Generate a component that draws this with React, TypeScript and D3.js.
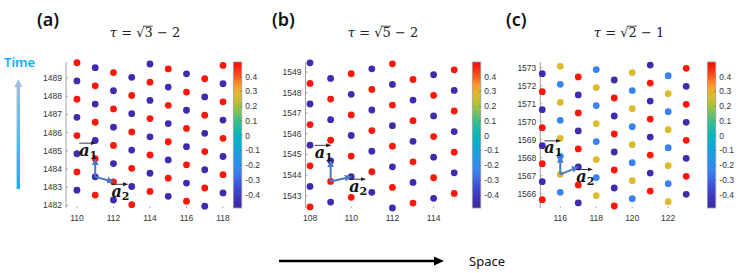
import { useEffect, useRef } from "react";
import * as d3 from "d3";

const W = 747;
const H = 273;

// colour levels of the dots, read against the colorbars
const RED = 0.48;
const BLU = -0.46;
const YEL = 0.27;
const LBL = -0.24;

const cbTicks = [0.4, 0.3, 0.2, 0.1, 0, -0.1, -0.2, -0.3, -0.4];
const cbStopVals = [-0.5, -0.45, -0.35, -0.25, -0.15, -0.05, 0, 0.1, 0.2, 0.27, 0.33, 0.4, 0.5];
const cbStopCols = ["#3a26a0", "#3d2db2", "#3f4ad6", "#3b80f2", "#1f98e8", "#0aaed2", "#03b5bd", "#3cbf8c", "#a6c03a", "#dcbc2e", "#f9a82e", "#ff5a1e", "#ff0505"];

// ---- panel (a): tau = sqrt(3) - 2 ----
const aCols = [110, 111, 112, 113, 114, 115, 116, 117, 118];
const aTimes = [
  [1489.84, 1488.84, 1487.84, 1486.84, 1485.84, 1484.84, 1483.84, 1482.84],
  [1489.57, 1488.57, 1487.57, 1486.57, 1485.57, 1484.57, 1483.57, 1482.57],
  [1489.3, 1488.3, 1487.3, 1486.3, 1485.3, 1484.3, 1483.3, 1482.3],
  [1489.04, 1488.04, 1487.04, 1486.04, 1485.04, 1484.04, 1483.04, 1482.04],
  [1489.77, 1488.77, 1487.77, 1486.77, 1485.77, 1484.77, 1483.77, 1482.77],
  [1489.5, 1488.5, 1487.5, 1486.5, 1485.5, 1484.5, 1483.5, 1482.5],
  [1489.23, 1488.23, 1487.23, 1486.23, 1485.23, 1484.23, 1483.23, 1482.23],
  [1488.96, 1487.96, 1486.96, 1485.96, 1484.96, 1483.96, 1482.96, 1481.96],
  [1489.69, 1488.69, 1487.69, 1486.69, 1485.69, 1484.69, 1483.69, 1482.69],
];
const aVals = [
  [RED, BLU, RED, BLU, RED, BLU, RED, BLU],
  [BLU, RED, BLU, RED, BLU, RED, BLU, RED],
  [RED, BLU, RED, BLU, RED, BLU, RED, BLU],
  [BLU, RED, BLU, RED, BLU, RED, BLU, RED],
  [BLU, RED, BLU, RED, BLU, RED, BLU, RED],
  [RED, BLU, RED, BLU, RED, BLU, RED, BLU],
  [BLU, RED, BLU, RED, BLU, RED, BLU, RED],
  [RED, BLU, RED, BLU, RED, BLU, RED, BLU],
  [RED, BLU, RED, BLU, RED, BLU, RED, BLU],
];
const aXTicks = [110, 112, 114, 116, 118];
const aYTicks = [1482, 1483, 1484, 1485, 1486, 1487, 1488, 1489];
const aVec = [[111, 1483.57], [111, 1484.57], [112, 1483.3]];

// ---- panel (b): tau = sqrt(5) - 2 ----
const bCols = [108, 109, 110, 111, 112, 113, 114, 115];
const bTimes = [
  [1549.45, 1548.45, 1547.45, 1546.45, 1545.45, 1544.45, 1543.45, 1542.45],
  [1548.69, 1547.69, 1546.69, 1545.69, 1544.69, 1543.69, 1542.69],
  [1548.92, 1547.92, 1546.92, 1545.92, 1544.92, 1543.92, 1542.92],
  [1549.16, 1548.16, 1547.16, 1546.16, 1545.16, 1544.16, 1543.16],
  [1549.4, 1548.4, 1547.4, 1546.4, 1545.4, 1544.4, 1543.4, 1542.4],
  [1548.64, 1547.64, 1546.64, 1545.64, 1544.64, 1543.64, 1542.64],
  [1548.87, 1547.87, 1546.87, 1545.87, 1544.87, 1543.87, 1542.87],
  [1549.11, 1548.11, 1547.11, 1546.11, 1545.11, 1544.11, 1543.11],
];
const bVals = [
  [BLU, RED, BLU, RED, BLU, RED, BLU, RED],
  [BLU, RED, BLU, RED, BLU, RED, BLU],
  [RED, BLU, RED, BLU, RED, BLU, RED],
  [BLU, RED, BLU, RED, BLU, RED, BLU],
  [RED, BLU, RED, BLU, RED, BLU, RED, BLU],
  [RED, BLU, RED, BLU, RED, BLU, RED],
  [BLU, RED, BLU, RED, BLU, RED, BLU],
  [RED, BLU, RED, BLU, RED, BLU, RED],
];
const bXTicks = [108, 110, 112, 114];
const bYTicks = [1543, 1544, 1545, 1546, 1547, 1548, 1549];
const bVec = [[109, 1543.69], [109, 1544.69], [110, 1543.92]];

// ---- panel (c): tau = sqrt(2) - 1 ----
const cCols = [115, 116, 117, 118, 119, 120, 121, 122, 123];
const cTimes = [
  [1572.67, 1571.67, 1570.67, 1569.67, 1568.67, 1567.67, 1566.67, 1565.67],
  [1573.08, 1572.08, 1571.08, 1570.08, 1569.08, 1568.08, 1567.08, 1566.08],
  [1572.49, 1571.49, 1570.49, 1569.49, 1568.49, 1567.49, 1566.49, 1565.49],
  [1572.9, 1571.9, 1570.9, 1569.9, 1568.9, 1567.9, 1566.9, 1565.9],
  [1572.32, 1571.32, 1570.32, 1569.32, 1568.32, 1567.32, 1566.32, 1565.32],
  [1572.73, 1571.73, 1570.73, 1569.73, 1568.73, 1567.73, 1566.73, 1565.73],
  [1573.15, 1572.15, 1571.15, 1570.15, 1569.15, 1568.15, 1567.15, 1566.15],
  [1572.56, 1571.56, 1570.56, 1569.56, 1568.56, 1567.56, 1566.56, 1565.56],
  [1572.97, 1571.97, 1570.97, 1569.97, 1568.97, 1567.97, 1566.97, 1565.97],
];
const cVals = [
  [BLU, RED, BLU, RED, BLU, RED, BLU, RED],
  [YEL, LBL, YEL, LBL, YEL, LBL, YEL, LBL],
  [RED, BLU, RED, BLU, RED, BLU, RED, BLU],
  [LBL, YEL, LBL, YEL, LBL, YEL, LBL, YEL],
  [BLU, RED, BLU, RED, BLU, RED, BLU, RED],
  [YEL, LBL, YEL, LBL, YEL, LBL, YEL, LBL],
  [BLU, RED, BLU, RED, BLU, RED, BLU, RED],
  [LBL, YEL, LBL, YEL, LBL, YEL, LBL, YEL],
  [RED, BLU, RED, BLU, RED, BLU, RED, BLU],
];
const cXTicks = [116, 118, 120, 122];
const cYTicks = [1566, 1567, 1568, 1569, 1570, 1571, 1572, 1573];
const cVec = [[116, 1567.08], [116, 1568.08], [117, 1567.49]];

type Panel = {
  letter: string;
  title: string;
  cols: number[];
  times: number[][];
  vals: number[][];
  xTicks: number[];
  yTicks: number[];
  vec: number[][];
  xDom: [number, number];
  yDom: [number, number];
  left: number;
  right: number;
  cbX: number;
  letterX: number;
  titleX: number;
};

const panels: Panel[] = [
  { letter: "(a)", title: "τ = √3 − 2", cols: aCols, times: aTimes, vals: aVals, xTicks: aXTicks, yTicks: aYTicks, vec: aVec,
    xDom: [109.4, 118.4], yDom: [1481.86, 1489.88], left: 66, right: 230.3, cbX: 233.3, letterX: 37, titleX: 145 },
  { letter: "(b)", title: "τ = √5 − 2", cols: bCols, times: bTimes, vals: bVals, xTicks: bXTicks, yTicks: bYTicks, vec: bVec,
    xDom: [107.78, 115.5], yDom: [1542.4, 1549.49], left: 305.5, right: 464.5, cbX: 472.3, letterX: 272, titleX: 383 },
  { letter: "(c)", title: "τ = √2 − 1", cols: cCols, times: cTimes, vals: cVals, xTicks: cXTicks, yTicks: cYTicks, vec: cVec,
    xDom: [114.89, 123.6], yDom: [1565.21, 1573.32], left: 540.3, right: 697, cbX: 707.3, letterX: 506, titleX: 629 },
];

const TOP = 62;
const BOTTOM = 208;
const TICK_FONT = "'Liberation Sans', Arial, sans-serif";

export default function App() {
  const ref = useRef<SVGSVGElement | null>(null);

  useEffect(() => {
    const svg = d3.select(ref.current);
    svg.selectAll("*").remove();

    const color = d3.scaleLinear<string>().domain(cbStopVals).range(cbStopCols).interpolate(d3.interpolateRgb);

    /* -------- defs -------- */
    const defs = svg.append("defs");
    const cbGrad = defs.append("linearGradient").attr("id", "cbGrad").attr("x1", 0).attr("x2", 0).attr("y1", 1).attr("y2", 0);
    d3.range(0, 1.0001, 0.05).forEach((f) => {
      cbGrad.append("stop").attr("offset", f).attr("stop-color", color(-0.49 + f * 0.99));
    });
    const timeGrad = defs.append("linearGradient").attr("id", "timeGrad").attr("x1", 0).attr("x2", 0).attr("y1", 0).attr("y2", 1);
    timeGrad.append("stop").attr("offset", 0).attr("stop-color", "#aac0e0");
    timeGrad.append("stop").attr("offset", 1).attr("stop-color", "#0bb4f0");
    defs.append("marker").attr("id", "vecHead").attr("viewBox", "0 0 10 10").attr("refX", 8).attr("refY", 5)
      .attr("markerWidth", 3.4).attr("markerHeight", 3.4).attr("orient", "auto")
      .append("path").attr("d", "M0,0L10,5L0,10z").attr("fill", "#4a78c8");
    defs.append("marker").attr("id", "smallHead").attr("viewBox", "0 0 10 10").attr("refX", 9).attr("refY", 5)
      .attr("markerWidth", 5).attr("markerHeight", 5).attr("markerUnits", "userSpaceOnUse").attr("orient", "auto")
      .append("path").attr("d", "M0,1L10,5L0,9z").attr("fill", "#222");

    svg.append("rect").attr("width", W).attr("height", H).attr("fill", "#fff");

    panels.forEach((p) => {
      const x = d3.scaleLinear().domain(p.xDom).range([p.left, p.right]);
      const y = d3.scaleLinear().domain(p.yDom).range([BOTTOM, TOP]);
      const g = svg.append("g");

      // panel letter + title
      g.append("text").attr("x", p.letterX).attr("y", 26).attr("font-family", "'Noto Sans', sans-serif")
        .attr("font-size", 18).attr("font-weight", 600).attr("fill", "#111").text(p.letter);
      const title = g.append("text").attr("x", p.titleX).attr("y", 37).attr("text-anchor", "middle")
        .attr("font-family", "'DejaVu Serif', serif").attr("font-size", 13).attr("fill", "#222");
      title.append("tspan").attr("font-style", "italic").text(p.title.slice(0, 1));
      title.append("tspan").text(p.title.slice(1));
      const tNode = title.node() as SVGTextElement;
      const rad = tNode.getExtentOfChar(4);
      const dig = tNode.getExtentOfChar(5);
      g.append("line").attr("x1", rad.x + rad.width * 0.8).attr("x2", dig.x + dig.width)
        .attr("y1", rad.y + 1.2).attr("y2", rad.y + 1.2).attr("stroke", "#222").attr("stroke-width", 0.8);

      // y axis
      g.append("line").attr("x1", p.left).attr("x2", p.left).attr("y1", TOP).attr("y2", BOTTOM)
        .attr("stroke", "#a0a0a0").attr("stroke-width", 1);
      g.selectAll("line.yt").data(p.yTicks).join("line").attr("class", "yt")
        .attr("x1", p.left).attr("x2", p.left + 2).attr("y1", (d) => y(d)).attr("y2", (d) => y(d))
        .attr("stroke", "#a0a0a0");
      g.selectAll("text.yl").data(p.yTicks).join("text").attr("class", "yl")
        .attr("x", p.left - 4).attr("y", (d) => y(d)).attr("dy", "0.35em").attr("text-anchor", "end")
        .attr("font-family", TICK_FONT).attr("font-size", 8.5).attr("fill", "#333").text((d) => d);

      // x ticks (no axis line visible)
      g.selectAll("line.xt").data(p.xTicks).join("line").attr("class", "xt")
        .attr("x1", (d) => x(d)).attr("x2", (d) => x(d)).attr("y1", BOTTOM - 1.5).attr("y2", BOTTOM)
        .attr("stroke", "#a0a0a0");
      g.selectAll("text.xl").data(p.xTicks).join("text").attr("class", "xl")
        .attr("x", (d) => x(d)).attr("y", 221).attr("text-anchor", "middle")
        .attr("font-family", TICK_FONT).attr("font-size", 8.5).attr("fill", "#333").text((d) => d);

      // dots
      const pts = p.cols.flatMap((c, i) => p.times[i].map((t, k) => ({ c, t, v: p.vals[i][k] })));
      g.selectAll("circle.pt").data(pts).join("circle").attr("class", "pt")
        .attr("cx", (d) => x(d.c)).attr("cy", (d) => y(d.t)).attr("r", 3.4)
        .attr("fill", (d) => color(d.v));

      // lattice vectors
      const [o, e1, e2] = p.vec.map(([c, t]) => [x(c), y(t)]);
      const shorten = (a: number[], b: number[], s: number) => {
        const dx = b[0] - a[0], dy = b[1] - a[1];
        const L = Math.hypot(dx, dy);
        return [b[0] - (dx / L) * s, b[1] - (dy / L) * s];
      };
      [e1, e2].forEach((e) => {
        const tip = shorten(o, e, 1);
        g.append("line").attr("x1", o[0]).attr("y1", o[1]).attr("x2", tip[0]).attr("y2", tip[1])
          .attr("stroke", "#4a78c8").attr("stroke-width", 2).attr("marker-end", "url(#vecHead)");
      });

      const vecLabel = (lx: number, by: number, sub: string) => {
        g.append("line").attr("x1", lx).attr("x2", lx + 16).attr("y1", by - 12.5).attr("y2", by - 12.5)
          .attr("stroke", "#222").attr("stroke-width", 0.9).attr("marker-end", "url(#smallHead)");
        const t = g.append("text").attr("x", lx).attr("y", by).attr("font-family", "'DejaVu Serif', serif")
          .attr("fill", "#111");
        t.append("tspan").attr("font-size", 16).attr("font-weight", "bold").attr("font-style", "italic").text("a");
        t.append("tspan").attr("font-size", 11).attr("font-weight", "bold").attr("dy", 3).text(sub);
      };
      vecLabel(o[0] - 16, e1[1] - 3, "1");
      vecLabel(e2[0] - 2, e2[1] + 15, "2");

      // colorbar
      const cy = d3.scaleLinear().domain([-0.49, 0.5]).range([BOTTOM, TOP]);
      g.append("rect").attr("x", p.cbX).attr("y", TOP).attr("width", 8.5).attr("height", BOTTOM - TOP)
        .attr("fill", "url(#cbGrad)").attr("stroke", "#a0a0a0").attr("stroke-width", 0.8);
      g.selectAll("line.ct").data(cbTicks).join("line").attr("class", "ct")
        .attr("x1", p.cbX + 6.5).attr("x2", p.cbX + 8.5).attr("y1", (d) => cy(d)).attr("y2", (d) => cy(d))
        .attr("stroke", "#666").attr("stroke-width", 0.6);
      g.selectAll("text.cl").data(cbTicks).join("text").attr("class", "cl")
        .attr("x", p.cbX + 12).attr("y", (d) => cy(d)).attr("dy", "0.35em")
        .attr("font-family", TICK_FONT).attr("font-size", 8.5).attr("fill", "#333")
        .text((d) => (d === 0 ? "0" : d3.format(".1f")(d).replace("−", "-")));
    });

    /* -------- Time arrow -------- */
    svg.append("text").attr("x", 4).attr("y", 66.5).attr("font-family", "'Noto Sans', sans-serif")
      .attr("font-size", 13).attr("font-weight", 600).attr("fill", "#16b0ee").text("Time");
    svg.append("path")
      .attr("d", "M18.3,79 L22.3,87 L20,87 L20,189 L16.6,189 L16.6,87 L14.3,87 Z")
      .attr("fill", "url(#timeGrad)");

    /* -------- Space arrow -------- */
    svg.append("line").attr("x1", 279).attr("x2", 436).attr("y1", 261).attr("y2", 261)
      .attr("stroke", "#000").attr("stroke-width", 2.6);
    svg.append("path").attr("d", "M444,261 L434,256.5 L434,265.5 Z").attr("fill", "#000");
    svg.append("text").attr("x", 469).attr("y", 265.5).attr("font-family", "'Noto Sans', sans-serif")
      .attr("font-size", 13).attr("fill", "#111").text("Space");
  }, []);

  return <svg ref={ref} width={W} height={H} style={{ position: "absolute", left: 0, top: 0 }} />;
}
